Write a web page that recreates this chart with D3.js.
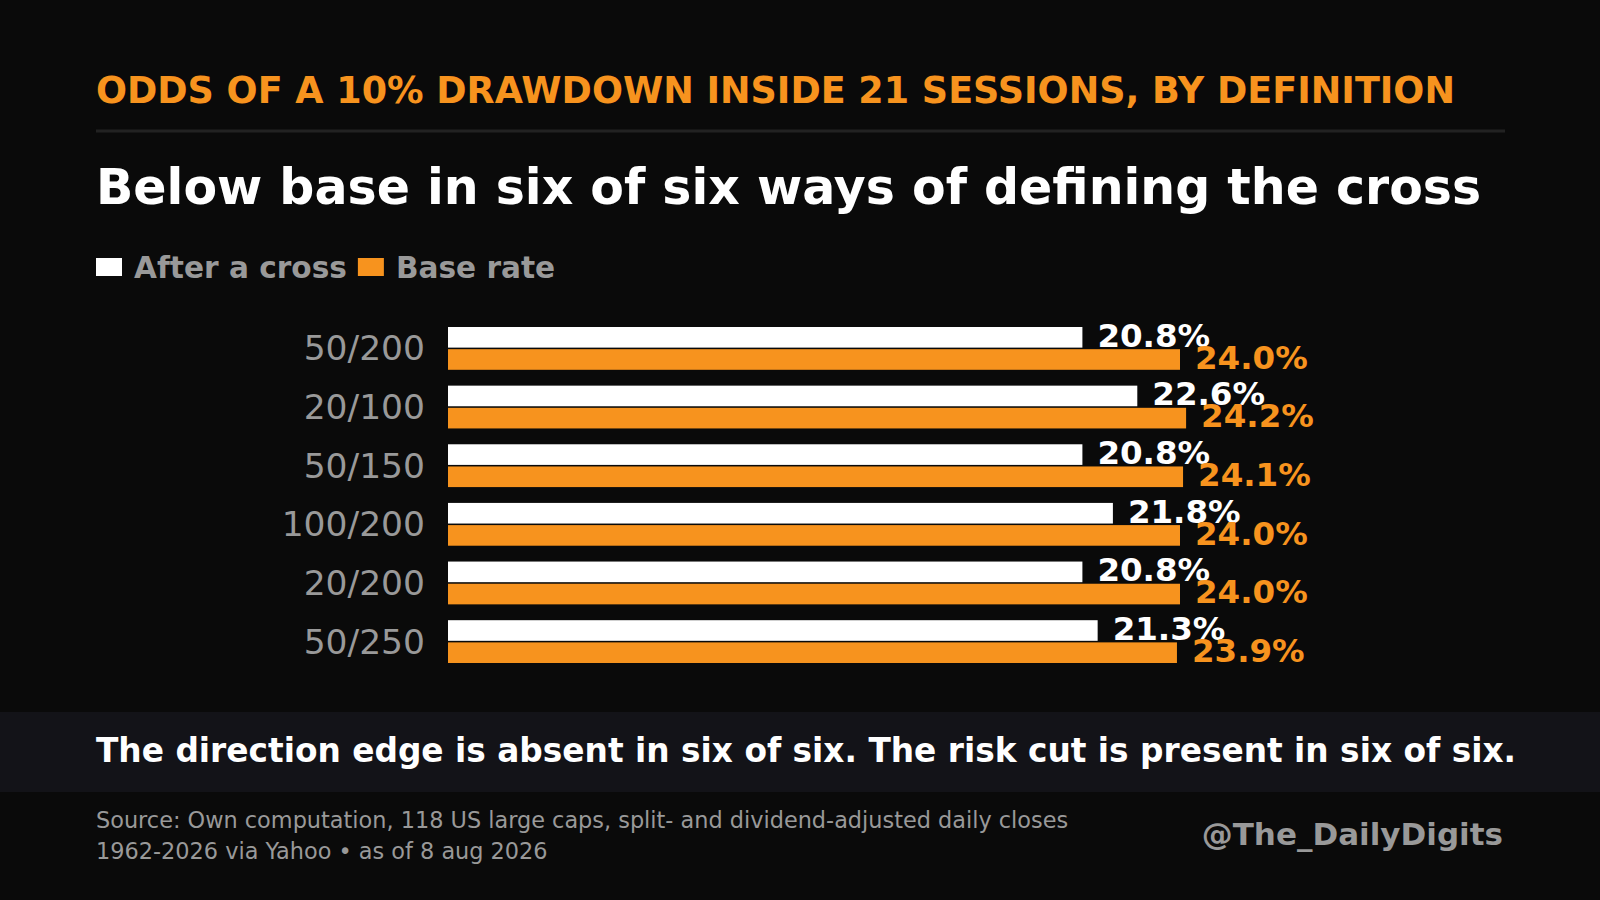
<!DOCTYPE html>
<html>
<head>
<meta charset="utf-8">
<script src="https://cdn.jsdelivr.net/npm/d3@7"></script>
<style>
  body { margin: 0; background: #0a0a0a; }
  svg { display: block; font-family: "DejaVu Sans", sans-serif; }
</style>
</head>
<body>
<div id="chart"></div>
<script>
const categories = ['50/200', '20/100', '50/150', '100/200', '20/200', '50/250'];
const afterCross = [20.8, 22.6, 20.8, 21.8, 20.8, 21.3];
const baseRate = [24.0, 24.2, 24.1, 24.0, 24.0, 23.9];
const seriesNames = ['After a cross', 'Base rate'];
const seriesColors = ['#ffffff', '#f7931e'];

const width = 1600;
const height = 900;

const svg = d3.select('#chart').append('svg').attr('width', width).attr('height', height);
svg.append('rect').attr('width', width).attr('height', height).attr('fill', '#0a0a0a');

// header
svg.append('text').attr('x', 96).attr('y', 103).attr('fill', '#f7931e')
  .attr('font-size', 36.5).attr('font-weight', 'bold')
  .text('ODDS OF A 10% DRAWDOWN INSIDE 21 SESSIONS, BY DEFINITION');
svg.append('line').attr('x1', 96).attr('x2', 1505).attr('y1', 131).attr('y2', 131)
  .attr('stroke', '#222').attr('stroke-width', 3);
svg.append('text').attr('x', 96).attr('y', 204).attr('fill', '#fff')
  .attr('font-size', 49).attr('font-weight', 'bold')
  .text('Below base in six of six ways of defining the cross');

// legend
const legend = svg.append('g').attr('transform', 'translate(96, 258)');
let lx = 0;
seriesNames.forEach((name, i) => {
  legend.append('rect').attr('x', lx).attr('y', 0).attr('width', 26).attr('height', 18).attr('fill', seriesColors[i]);
  const t = legend.append('text').attr('x', lx + 38).attr('y', 20).attr('fill', '#999')
    .attr('font-size', 29.6).attr('font-weight', 'bold').text(name);
  lx += 38 + t.node().getComputedTextLength() + 11;
});

// bars
const x0 = 448;
const xScale = d3.scaleLinear().domain([0, 10]).range([x0, x0 + 305]);
const yScale = d3.scaleBand().domain(categories).range([327, 663]).paddingInner(0.27);
const sub = d3.scaleBand().domain([0, 1]).range([0, yScale.bandwidth()]).paddingInner(0.07);

const rows = svg.append('g').selectAll('g').data(categories).join('g')
  .attr('transform', (d) => `translate(0, ${yScale(d)})`);

rows.append('text').attr('x', 425).attr('y', yScale.bandwidth() / 2 + 12)
  .attr('text-anchor', 'end').attr('fill', '#999').attr('font-size', 34.5)
  .text((d) => d);

[afterCross, baseRate].forEach((vals, s) => {
  rows.append('rect').attr('x', x0).attr('y', sub(s))
    .attr('width', (d, i) => xScale(vals[i]) - x0).attr('height', sub.bandwidth())
    .attr('fill', seriesColors[s]);
  rows.append('text').attr('x', (d, i) => xScale(vals[i]) + 15).attr('y', sub(s) + sub.bandwidth() - 1)
    .attr('fill', seriesColors[s]).attr('font-size', 32.5).attr('font-weight', 'bold')
    .text((d, i) => vals[i].toFixed(1) + '%');
});

// footer
svg.append('rect').attr('x', 0).attr('y', 712).attr('width', width).attr('height', 80).attr('fill', '#131318');
svg.append('text').attr('x', 96).attr('y', 762).attr('fill', '#fff')
  .attr('font-size', 32.8).attr('font-weight', 'bold')
  .text('The direction edge is absent in six of six. The risk cut is present in six of six.');
svg.append('text').attr('x', 96).attr('y', 828).attr('fill', '#999').attr('font-size', 22.4)
  .text('Source: Own computation, 118 US large caps, split- and dividend-adjusted daily closes');
svg.append('text').attr('x', 96).attr('y', 859).attr('fill', '#999').attr('font-size', 22.4)
  .text('1962-2026 via Yahoo • as of 8 aug 2026');
svg.append('text').attr('x', 1503).attr('y', 845).attr('text-anchor', 'end').attr('fill', '#999')
  .attr('font-size', 31).attr('font-weight', 'bold').text('@The_DailyDigits');
</script>
</body>
</html>
